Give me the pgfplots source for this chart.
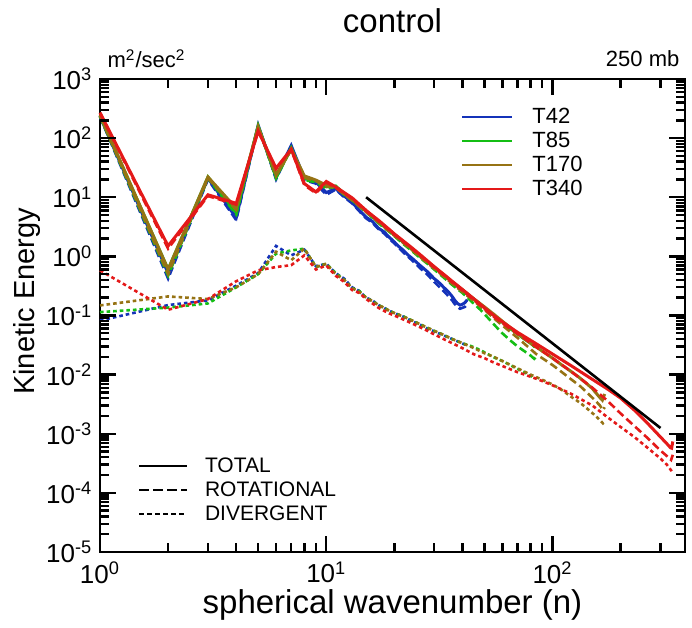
\documentclass[border=0pt]{standalone}
\usepackage{fontspec}
\setmainfont{Liberation Sans}
\usepackage{pgfplots}
\pgfplotsset{compat=1.18}

\definecolor{cA}{RGB}{20,50,185}
\definecolor{cB}{RGB}{20,190,20}
\definecolor{cC}{RGB}{150,115,20}
\definecolor{cD}{RGB}{228,25,25}

\tikzset{
  totline/.style={line width=1.5pt},
  rotline/.style={line width=1.3pt, dash pattern=on 4pt off 2pt},
  divline/.style={line width=1.3pt, dash pattern=on 1.8pt off 1.5pt},
  tk/.style={black, line width=1.2pt},
}

\begin{document}
\begin{tikzpicture}
\begin{axis}[
  name=keplot,
  scale only axis,
  clip=false,
  width=292.5pt, height=236.5pt,
  xmode=log, ymode=log,
  xmin=1, xmax=385, ymin=1e-5, ymax=1e3,
  line width=1pt,
  major tick length=8pt, minor tick length=4.5pt,
  every tick/.style={black, line width=1.2pt},
  xtick={1,10,100}, ytick={1e-5,1e-4,1e-3,1e-2,1e-1,1,10,100,1000},
  xticklabels={10\textsuperscript{0},10\textsuperscript{1},10\textsuperscript{2}},
  yticklabels={10\textsuperscript{-5},10\textsuperscript{-4},10\textsuperscript{-3},10\textsuperscript{-2},10\textsuperscript{-1},10\textsuperscript{0},10\textsuperscript{1},10\textsuperscript{2},10\textsuperscript{3}},
  tick label style={font=\fontsize{13}{15}\selectfont},
  xticklabel style={yshift=-1pt},
  xlabel={spherical wavenumber (n)},
  ylabel={Kinetic Energy},
  every axis x label/.style={at={(rel axis cs:0.5,0)}, anchor=base, yshift=-31pt, font=\fontsize{16.5}{18}\selectfont},
  every axis y label/.style={at={(rel axis cs:0,0.53)}, xshift=-26pt, rotate=90, anchor=south, font=\fontsize{14.5}{16}\selectfont},
  legend style={draw=none, fill=none, inner sep=0pt, outer sep=0pt,
    at={(rel axis cs:0.617,0.945)}, anchor=north west,
    font=\fontsize{11}{13}\selectfont, row sep=0pt,
    nodes={inner sep=1.5pt, text height=7.8pt, text depth=1.2pt},
    /tikz/every odd column/.append style={column sep=8pt}},
  legend cell align=left,
  legend image code/.code={\draw[#1] (0pt,0pt) -- (25pt,0pt);},
]
\addlegendimage{cA, line width=1.2pt}\addlegendentry{T42}
\addlegendimage{cB, line width=1.2pt}\addlegendentry{T85}
\addlegendimage{cC, line width=1.2pt}\addlegendentry{T170}
\addlegendimage{cD, line width=1.2pt}\addlegendentry{T340}

% ---------- T42 ----------
\addplot[cA, totline, forget plot] coordinates {
(1,235)(2,0.52)(3,21)(4,4.5)(5,165)(6,22)(7,75)(8,21)(9,18)(10,12)(11,14)(12,10.5)(13,8.2)(14,6.0)(15,4.6)(16,3.9)(17,3.0)(18,2.6)(19,2.1)(20,1.75)(21,1.45)(22,1.25)(23,1.05)(24,0.92)(25,0.8)(26,0.7)(27,0.62)(28,0.55)(29,0.48)(30,0.42)(31,0.38)(32,0.34)(33,0.3)(34,0.27)(35,0.24)(36,0.21)(37,0.18)(38,0.16)(39,0.15)(40,0.155)(41,0.165)(42,0.185)};
\addplot[cA, rotline, forget plot] coordinates {
(1,230)(2,0.42)(3,20)(4,4.1)(5,163)(6,20)(7,73)(8,19.5)(9,17)(10,11)(11,13.5)(12,10)(13,7.9)(14,5.8)(15,4.4)(16,3.7)(17,2.9)(18,2.45)(19,2.0)(20,1.65)(22,1.15)(24,0.85)(26,0.63)(28,0.49)(30,0.37)(32,0.29)(34,0.23)(36,0.18)(37,0.155)(38,0.14)(39,0.13)(40,0.135)(41,0.14)(42,0.155)};
\addplot[cA, divline, forget plot] coordinates {
(1,0.082)(2,0.15)(3,0.18)(4,0.32)(5,0.52)(6,1.5)(7,1.04)(8,1.3)(9,0.68)(10,0.75)(11,0.52)(12,0.42)(13,0.3)(14,0.26)(15,0.2)(16,0.18)(17,0.15)(18,0.135)(19,0.12)(20,0.11)(22,0.095)(24,0.08)(26,0.07)(28,0.06)(30,0.054)(33,0.046)(36,0.04)(39,0.035)(42,0.031)};

% ---------- T85 ----------
\addplot[cB, totline, forget plot] coordinates {
(1,240)(2,0.6)(3,22)(4,5.5)(5,160)(6,22)(7,68)(8,21)(9,19)(10,15)(11,15.5)(12,11.5)(13,9.2)(14,7.2)(15,5.8)(16,4.7)(17,3.8)(18,3.2)(19,2.7)(20,2.3)(22,1.7)(24,1.3)(26,1.0)(28,0.8)(30,0.65)(33,0.48)(36,0.37)(40,0.27)(44,0.2)(48,0.155)(52,0.12)(56,0.095)(60,0.077)(65,0.06)(70,0.049)(75,0.04)(80,0.034)(83,0.03)(85,0.032)};
\addplot[cB, rotline, forget plot] coordinates {
(1,235)(2,0.47)(3,21)(4,5.1)(5,158)(6,21)(7,66)(8,19.5)(9,18)(10,14)(11,15)(12,11)(13,8.9)(14,7.0)(15,5.6)(16,4.5)(17,3.65)(18,3.05)(19,2.6)(20,2.2)(22,1.6)(24,1.22)(26,0.94)(28,0.75)(30,0.6)(33,0.44)(36,0.33)(40,0.24)(44,0.17)(48,0.125)(52,0.09)(56,0.066)(60,0.05)(65,0.038)(70,0.03)(75,0.025)(80,0.021)(83,0.0185)(85,0.02)};
\addplot[cB, divline, forget plot] coordinates {
(1,0.114)(2,0.136)(3,0.16)(4,0.3)(5,0.5)(6,1.11)(7,1.26)(8,1.35)(9,0.66)(10,0.75)(11,0.52)(12,0.4)(13,0.29)(14,0.26)(15,0.2)(16,0.175)(17,0.15)(18,0.135)(19,0.12)(20,0.11)(22,0.096)(24,0.082)(26,0.071)(28,0.062)(30,0.055)(33,0.047)(36,0.04)(40,0.034)(44,0.03)(48,0.026)(52,0.022)(56,0.019)(60,0.017)(65,0.0145)(70,0.0125)(75,0.011)(80,0.0095)(85,0.0085)};

% ---------- T170 ----------
\addplot[cC, totline, forget plot] coordinates {
(1,245)(2,0.6)(3,22)(4,6.5)(5,155)(6,24)(7,65)(8,23)(9,19.5)(10,16)(11,15)(12,11.5)(13,9.2)(14,7.3)(15,5.8)(16,4.8)(17,3.9)(18,3.3)(19,2.75)(20,2.35)(22,1.75)(24,1.33)(26,1.03)(28,0.82)(30,0.66)(33,0.49)(36,0.37)(40,0.27)(45,0.19)(50,0.14)(55,0.105)(60,0.08)(70,0.05)(80,0.034)(90,0.025)(100,0.019)(110,0.0145)(120,0.0115)(130,0.0092)(140,0.0073)(150,0.0058)(160,0.0043)(166,0.0037)(170,0.0047)};
\addplot[cC, rotline, forget plot] coordinates {
(1,240)(2,0.5)(3,21)(4,6.1)(5,153)(6,23)(7,63)(8,21.5)(9,18.8)(10,15.2)(11,14.5)(12,11.1)(13,8.9)(14,7.0)(15,5.6)(16,4.6)(17,3.75)(18,3.15)(19,2.62)(20,2.24)(22,1.66)(24,1.26)(26,0.97)(28,0.77)(30,0.62)(33,0.46)(36,0.345)(40,0.25)(45,0.175)(50,0.125)(55,0.09)(60,0.068)(70,0.042)(80,0.027)(85,0.022)(90,0.019)(100,0.0145)(110,0.011)(120,0.0085)(133,0.0063)(145,0.0046)(155,0.0036)(162,0.003)(167,0.0025)(170,0.0028)};
\addplot[cC, divline, forget plot] coordinates {
(1,0.148)(2,0.21)(3,0.19)(4,0.3)(5,0.5)(6,1.2)(7,0.86)(8,1.35)(9,0.66)(10,0.75)(11,0.5)(12,0.4)(13,0.29)(14,0.25)(15,0.2)(16,0.175)(17,0.15)(18,0.135)(19,0.12)(20,0.11)(22,0.095)(24,0.082)(26,0.071)(28,0.062)(30,0.055)(33,0.047)(36,0.04)(40,0.034)(45,0.028)(50,0.023)(55,0.02)(60,0.017)(70,0.0128)(80,0.01)(90,0.0082)(100,0.0068)(110,0.0055)(120,0.0043)(133,0.0033)(145,0.0025)(155,0.002)(162,0.0017)(167,0.0015)(170,0.0016)};

% ---------- T340 ----------
\addplot[cD, totline, forget plot] coordinates {
(1,270)(2,1.5)(3,11)(4,7.9)(5,132)(6,31)(7,65)(8,17)(9,12.3)(10,18.5)(11,15)(12,12)(13,9.8)(14,7.6)(15,6.0)(16,4.9)(17,4.1)(18,3.4)(19,2.85)(20,2.4)(22,1.8)(24,1.38)(26,1.07)(28,0.84)(30,0.67)(33,0.5)(36,0.38)(40,0.275)(45,0.19)(50,0.135)(55,0.1)(60,0.078)(70,0.052)(85,0.033)(100,0.0223)(120,0.0144)(150,0.0083)(175,0.0057)(200,0.004)(230,0.0025)(260,0.00157)(300,0.00088)(320,0.00068)(332,0.00058)(336,0.00057)(340,0.00074)};
\addplot[cD, rotline, forget plot] coordinates {
(1,265)(2,1.35)(3,10.5)(4,7.5)(5,131)(6,30)(7,64)(8,16)(9,11.7)(10,17.8)(11,14.5)(12,11.6)(13,9.5)(14,7.35)(15,5.8)(16,4.72)(17,3.95)(18,3.28)(19,2.75)(20,2.32)(22,1.74)(24,1.33)(26,1.03)(28,0.81)(30,0.645)(33,0.48)(36,0.365)(40,0.264)(45,0.182)(50,0.129)(55,0.095)(60,0.074)(70,0.049)(85,0.029)(100,0.019)(120,0.0115)(150,0.006)(175,0.0036)(200,0.0022)(230,0.00135)(260,0.00088)(300,0.00052)(320,0.00042)(334,0.00036)(340,0.00044)};
\addplot[cD, divline, forget plot] coordinates {
(1,0.58)(2,0.125)(3,0.19)(4,0.38)(5,0.58)(6,0.66)(7,0.71)(8,1.04)(9,0.6)(10,0.7)(11,0.47)(12,0.37)(13,0.27)(14,0.24)(15,0.19)(16,0.16)(17,0.135)(18,0.12)(19,0.108)(20,0.1)(22,0.085)(24,0.073)(26,0.063)(28,0.055)(30,0.048)(33,0.04)(36,0.034)(40,0.028)(45,0.022)(50,0.019)(55,0.016)(60,0.014)(70,0.011)(85,0.0085)(100,0.0066)(120,0.0048)(150,0.003)(175,0.0019)(200,0.0013)(230,0.00088)(260,0.0006)(300,0.00038)(320,0.0003)(340,0.00022)};

% reference slope n^-3
\addplot[black, line width=1.3pt, forget plot] coordinates {(15,10)(300,0.00125)};

% tick marks on all four sides
\pgfplotsinvokeforeach{1,10,100}{
  \draw[tk] (axis cs:#1,1e-5) -- ++(0pt,8pt);
  \draw[tk] (axis cs:#1,1e3) -- ++(0pt,-8pt);}
\pgfplotsinvokeforeach{2,3,4,5,6,7,8,9,20,30,40,50,60,70,80,90,200,300}{
  \draw[tk] (axis cs:#1,1e-5) -- ++(0pt,4.5pt);
  \draw[tk] (axis cs:#1,1e3) -- ++(0pt,-4.5pt);}
\pgfplotsinvokeforeach{1e-5,1e-4,1e-3,0.01,0.1,1,10,100}{
  \draw[tk] (axis cs:1,#1) -- ++(8pt,0pt);
  \draw[tk] (axis cs:385,#1) -- ++(-8pt,0pt);}
\pgfplotsinvokeforeach{2e-5,3e-5,4e-5,5e-5,6e-5,7e-5,8e-5,9e-5,
               2e-4,3e-4,4e-4,5e-4,6e-4,7e-4,8e-4,9e-4,
               2e-3,3e-3,4e-3,5e-3,6e-3,7e-3,8e-3,9e-3,
               0.02,0.03,0.04,0.05,0.06,0.07,0.08,0.09,
               0.2,0.3,0.4,0.5,0.6,0.7,0.8,0.9,
               2,3,4,5,6,7,8,9,
               20,30,40,50,60,70,80,90,
               200,300,400,500,600,700,800,900}{
  \draw[tk] (axis cs:1,#1) -- ++(4.5pt,0pt);
  \draw[tk] (axis cs:385,#1) -- ++(-4.5pt,0pt);}

\node[anchor=base, font=\fontsize{16.5}{18}\selectfont] at (rel axis cs:0.5,1) [yshift=23pt] {control};
\node[anchor=base west, font=\fontsize{11}{12}\selectfont] at (rel axis cs:0,1) [yshift=5.5pt] {m\textsuperscript{2}/sec\textsuperscript{2}};
\node[anchor=base east, font=\fontsize{11}{12}\selectfont] at (rel axis cs:1,1) [yshift=6pt, xshift=1pt] {250 mb};
\end{axis}

\begin{axis}[
  scale only axis, hide axis,
  width=292.5pt, height=236.5pt,
  xmin=0, xmax=1, ymin=0, ymax=1,
  legend style={draw=none, fill=none, inner sep=0pt, outer sep=0pt,
    at={(rel axis cs:0.065,0.055)}, anchor=south west,
    font=\fontsize{10.5}{12}\selectfont, row sep=0pt,
    nodes={inner sep=1.5pt, text height=7.8pt, text depth=1.2pt},
    /tikz/every odd column/.append style={column sep=7pt}},
  legend cell align=left,
  legend image code/.code={\draw[#1] (0pt,0pt) -- (24pt,0pt);},
]
\addlegendimage{black, line width=1pt}\addlegendentry{TOTAL}
\addlegendimage{black, line width=1pt, dash pattern=on 5pt off 2pt}\addlegendentry{ROTATIONAL}
\addlegendimage{black, line width=1pt, dash pattern=on 2.5pt off 1.5pt}\addlegendentry{DIVERGENT}
\end{axis}
\path (keplot.south west) ++(-50pt,-36.5pt);
\path (keplot.north east) ++(3.5pt,39.5pt);
\end{tikzpicture}
\end{document}
